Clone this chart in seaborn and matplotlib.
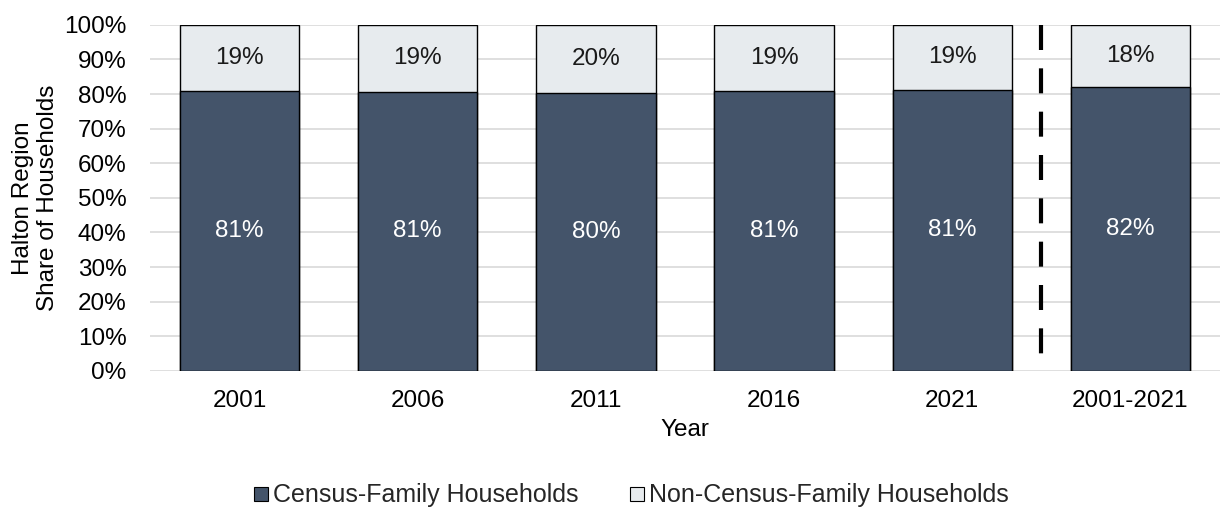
import numpy as np
import pandas as pd
import matplotlib
matplotlib.use('Agg')
import matplotlib.pyplot as plt
from matplotlib.lines import Line2D
import seaborn as sns

years = ['2001', '2006', '2011', '2016', '2021', '2001-2021']
census_family = [81.0, 80.7, 80.3, 81.0, 81.3, 82.0]
non_census_family = [19.0, 19.3, 19.7, 19.0, 18.7, 18.0]

dark = '#44546A'
light = '#E7EBEE'
fs = 17.5

sns.set_theme(style='white')
plt.rcParams['font.family'] = ['Liberation Sans', 'DejaVu Sans']

df = pd.DataFrame({'Year': years, 'Census': census_family, 'NonCensus': non_census_family})
df['Total'] = df['Census'] + df['NonCensus']

fig, ax = plt.subplots(figsize=(12.22, 5.08), dpi=100)
fig.subplots_adjust(left=0.123, right=0.998, top=0.951, bottom=0.270)

# top segment drawn as full-height bar, then the bottom segment over it
sns.barplot(data=df, x='Year', y='Total', color=light, edgecolor='black', linewidth=1,
            width=0.67, saturation=1, ax=ax, zorder=2)
sns.barplot(data=df, x='Year', y='Census', color=dark, edgecolor='black', linewidth=1,
            width=0.67, saturation=1, ax=ax, zorder=3)

n = len(years)
top_bars = ax.patches[:n]
bottom_bars = ax.patches[n:]
for p, v in zip(bottom_bars, census_family):
    ax.text(p.get_x() + p.get_width() / 2, v / 2, f'{v:.0f}%', ha='center', va='center',
            color='white', fontsize=fs, zorder=4)
for p, c, v in zip(top_bars, census_family, non_census_family):
    ax.text(p.get_x() + p.get_width() / 2, c + v / 2, f'{v:.0f}%', ha='center', va='center',
            color='#1a1a1a', fontsize=fs, zorder=4)

# divider between the single years and the 20-year period
ax.plot([n - 1.5, n - 1.5], [100, 4.5], color='black', linewidth=3, linestyle=(0, (6.0, 4.4)),
        solid_capstyle='butt', dash_capstyle='butt', zorder=4)

ax.set_ylim(0, 100)
ax.set_xlim(-0.5, n - 0.5)
ax.set_yticks(np.arange(0, 101, 10))
ax.set_yticklabels([f'{t}%' for t in range(0, 101, 10)])
ax.yaxis.grid(True, color='#D9D9D9', linewidth=1.2, zorder=0)
ax.set_axisbelow(True)
for s in ax.spines.values():
    s.set_visible(False)
ax.tick_params(axis='both', length=0, labelsize=fs, colors='black')
ax.tick_params(axis='y', pad=17)
ax.tick_params(axis='x', pad=14)

ax.set_xlabel('Year', fontsize=fs, color='black', labelpad=5)
ax.set_ylabel('Halton Region\nShare of Households', fontsize=fs, color='black',
              linespacing=1.15, labelpad=4)

handles = [Line2D([], [], marker='s', linestyle='none', markersize=10.5, markerfacecolor=dark,
                  markeredgecolor='black', markeredgewidth=0.8, label='Census-Family Households'),
           Line2D([], [], marker='s', linestyle='none', markersize=10.5, markerfacecolor=light,
                  markeredgecolor='black', markeredgewidth=0.8, label='Non-Census-Family Households')]
fig.legend(handles=handles, loc='center', bbox_to_anchor=(0.516, 0.025), ncol=2, frameon=False,
           fontsize=18, handlelength=0.7, handletextpad=0.12, columnspacing=2.0)

fig.savefig('out.png', dpi=100)
